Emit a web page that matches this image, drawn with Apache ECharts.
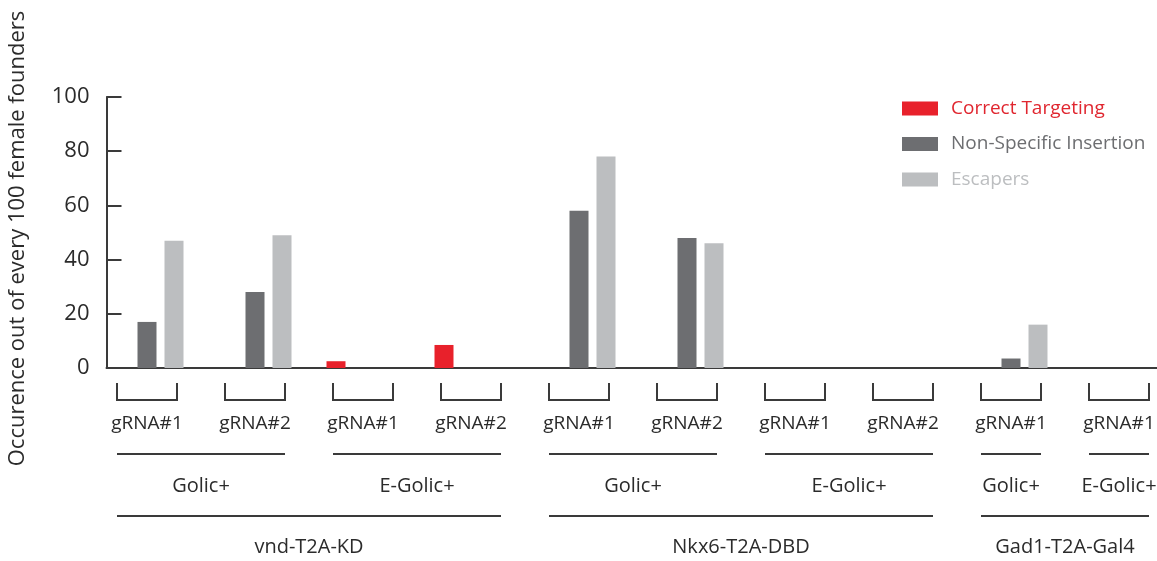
<!DOCTYPE html>
<html>
<head>
<meta charset="utf-8">
<title>Occurence chart</title>
<script src="https://cdn.jsdelivr.net/npm/echarts@6/dist/echarts.min.js"></script>
<style>
  html, body { margin: 0; padding: 0; background: #ffffff; }
  #main { width: 1157px; height: 561px; }
</style>
</head>
<body>
<div id="main"></div>
<script>
// one entry per gRNA group, left to right
var groupLabels = ['gRNA#1', 'gRNA#2', 'gRNA#1', 'gRNA#2', 'gRNA#1', 'gRNA#2', 'gRNA#1', 'gRNA#2', 'gRNA#1', 'gRNA#1'];
var correctTargeting = [0, 0, 2.5, 8.5, 0, 0, 0, 0, 0, 0];
var nonSpecific = [17, 28, 0, 0, 58, 48, 0, 0, 3.5, 0];
var escapers = [47, 49, 0, 0, 78, 46, 0, 0, 16, 0];

// second row: method, spans given as [first group, last group]
var methodLabels = ['Golic+', 'E-Golic+', 'Golic+', 'E-Golic+', 'Golic+', 'E-Golic+'];
var methodSpans = [[0, 1], [2, 3], [4, 5], [6, 7], [8, 8], [9, 9]];

// third row: construct
var geneLabels = ['vnd-T2A-KD', 'Nkx6-T2A-DBD', 'Gad1-T2A-Gal4'];
var geneSpans = [[0, 3], [4, 7], [8, 9]];

var seriesNames = ['Correct Targeting', 'Non-Specific Insertion', 'Escapers'];
var seriesColors = ['#e8212b', '#6d6e71', '#bcbec0'];
var legendTextColors = ['#e0262f', '#6d6e71', '#bcbec0'];

var SLOTS_PER_GROUP = 4; // 3 bars + a gap
var slotCount = groupLabels.length * SLOTS_PER_GROUP;
var slots = [];
for (var i = 0; i < slotCount; i++) slots.push('s' + i);

function slotData(values, offset) {
    var arr = [];
    for (var i = 0; i < slotCount; i++) arr.push('-');
    for (var g = 0; g < values.length; g++) {
        if (values[g] > 0) arr[g * SLOTS_PER_GROUP + offset] = values[g];
    }
    return arr;
}

var allValues = [correctTargeting, nonSpecific, escapers];
var textColor = '#2b2b2b';
var lineColor = '#3a3a3a';
var font = '"Open Sans", "Noto Sans", sans-serif';

var myChart = echarts.init(document.getElementById('main'));

var series = [];
for (var s = 0; s < 3; s++) {
    series.push({
        name: seriesNames[s],
        type: 'bar',
        data: slotData(allValues[s], s),
        barWidth: 19,
        barGap: '-100%',
        itemStyle: { color: seriesColors[s] },
        silent: true
    });
}

var option = {
    backgroundColor: '#ffffff',
    animation: false,
    textStyle: { fontFamily: font },
    grid: {
        left: 106.5,
        top: 97,
        width: 27 * slotCount,
        height: 271,
        outerBoundsMode: 'none'
    },
    legend: {
        orient: 'vertical',
        left: 897,
        top: 94,
        itemWidth: 36,
        itemHeight: 14,
        itemGap: 16.5,
        icon: 'rect',
        selectedMode: false,
        data: seriesNames.map(function (n, k) {
            return { name: n, textStyle: { color: legendTextColors[k] } };
        }),
        textStyle: { fontSize: 19, fontFamily: font, padding: [0, 0, 0, 8] }
    },
    xAxis: {
        type: 'category',
        data: slots,
        axisLine: { lineStyle: { color: lineColor, width: 2 } },
        axisTick: { inside: true, length: 6, interval: 0, lineStyle: { color: lineColor, width: 1.5 } },
        axisLabel: { show: false },
        splitLine: { show: false }
    },
    yAxis: {
        type: 'value',
        min: 0,
        max: 100,
        interval: 20,
        name: 'Occurence out of every 100 female founders',
        nameLocation: 'middle',
        nameGap: 78,
        nameTextStyle: { fontSize: 22, color: textColor, fontFamily: font, padding: [0, 12, 0, 0] },
        axisLine: { show: true, lineStyle: { color: lineColor, width: 2 } },
        axisTick: { show: true, inside: true, length: 15, lineStyle: { color: lineColor, width: 2 } },
        axisLabel: { fontSize: 22, color: textColor, margin: 17, fontFamily: font },
        splitLine: { show: false }
    },
    series: series
};

myChart.setOption(option);

// hierarchical labels under the axis, placed from the axis scale
function slotX(idx) {
    return myChart.convertToPixel({ xAxisIndex: 0 }, idx);
}
var y0 = myChart.convertToPixel({ yAxisIndex: 0 }, 0);
var graphics = [];
var stroke = { stroke: lineColor, lineWidth: 2, fill: null };

function spanEnds(a, b) {
    return [slotX(a * SLOTS_PER_GROUP) - 3, slotX(b * SLOTS_PER_GROUP + 2) + 3];
}

for (var g = 0; g < groupLabels.length; g++) {
    var e = spanEnds(g, g);
    graphics.push({
        type: 'polyline', silent: true,
        shape: { points: [[e[0], y0 + 15], [e[0], y0 + 32], [e[1], y0 + 32], [e[1], y0 + 15]] },
        style: stroke
    });
    graphics.push({
        type: 'text', silent: true, x: (e[0] + e[1]) / 2, y: y0 + 56,
        style: { text: groupLabels[g], fill: textColor, font: '19px ' + font, align: 'center', verticalAlign: 'middle' }
    });
}
for (var m = 0; m < methodLabels.length; m++) {
    var e2 = spanEnds(methodSpans[m][0], methodSpans[m][1]);
    graphics.push({
        type: 'line', silent: true,
        shape: { x1: e2[0], y1: y0 + 86, x2: e2[1], y2: y0 + 86 },
        style: stroke
    });
    graphics.push({
        type: 'text', silent: true, x: (e2[0] + e2[1]) / 2, y: y0 + 118,
        style: { text: methodLabels[m], fill: textColor, font: '20px ' + font, align: 'center', verticalAlign: 'middle' }
    });
}
for (var k = 0; k < geneLabels.length; k++) {
    var e3 = spanEnds(geneSpans[k][0], geneSpans[k][1]);
    graphics.push({
        type: 'line', silent: true,
        shape: { x1: e3[0], y1: y0 + 148, x2: e3[1], y2: y0 + 148 },
        style: stroke
    });
    graphics.push({
        type: 'text', silent: true, x: (e3[0] + e3[1]) / 2, y: y0 + 179,
        style: { text: geneLabels[k], fill: textColor, font: '20px ' + font, align: 'center', verticalAlign: 'middle' }
    });
}

myChart.setOption({ graphic: graphics });
</script>
</body>
</html>
